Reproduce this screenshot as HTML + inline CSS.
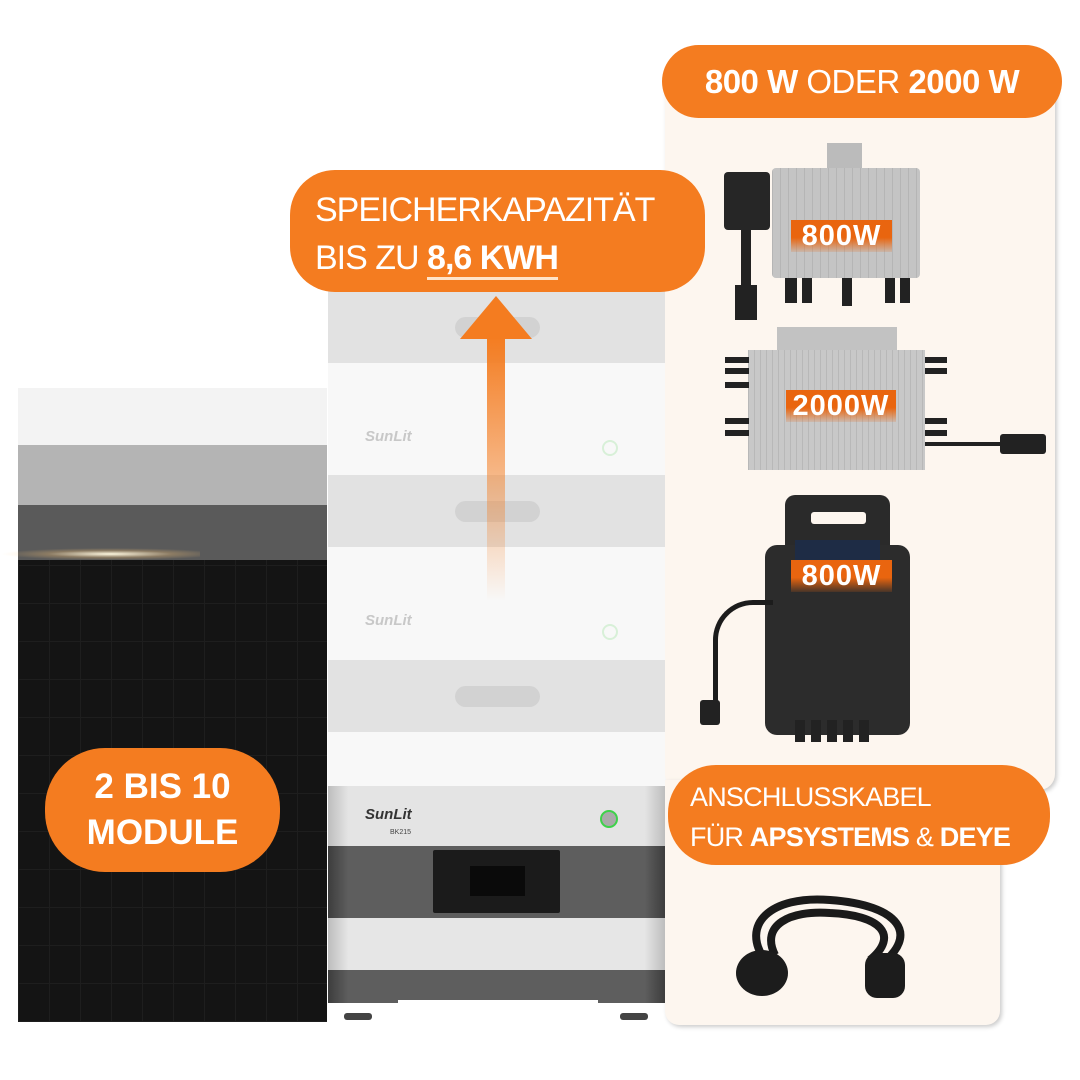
<!DOCTYPE html>
<html><head><meta charset="utf-8"><style>
*{margin:0;padding:0;box-sizing:border-box}
body{width:1080px;height:1080px;background:#fff;position:relative;overflow:hidden;font-family:"Liberation Sans",sans-serif}
.a{position:absolute}
.pill{position:absolute;background:#f47c20;color:#fff;border-radius:40px;white-space:nowrap}
.lbl{position:absolute;color:#fff;font-weight:bold;font-size:29px;text-align:center;line-height:32px;background:linear-gradient(#e9650f 55%,rgba(233,101,15,0.15));letter-spacing:1px}
</style></head><body>
<!-- right panel -->
<div class="a" style="left:665px;top:70px;width:390px;height:720px;background:#fdf6ef;border-radius:0 0 16px 16px;box-shadow:2px 2px 4px #ccc"></div>
<div class="a" style="left:665px;top:780px;width:335px;height:245px;background:#fdf6ef;border-radius:0 0 14px 14px;box-shadow:2px 2px 4px #ccc"></div>

<!-- solar panel -->
<div class="a" style="left:18px;top:388px;width:309px;height:57px;background:#f3f3f3"></div>
<div class="a" style="left:18px;top:445px;width:309px;height:60px;background:#b4b4b4"></div>
<div class="a" style="left:18px;top:505px;width:309px;height:55px;background:#5a5a5a"></div>
<div class="a" style="left:18px;top:560px;width:309px;height:462px;background:#141414;background-image:repeating-linear-gradient(90deg,#1e1e1e 0 1px,transparent 1px 31px),repeating-linear-gradient(0deg,#1e1e1e 0 1px,transparent 1px 38px)"></div>
<div class="a" style="left:0;top:548px;width:200px;height:12px;background:radial-gradient(ellipse at 55% 50%,#fff8e0,rgba(255,200,120,0.3) 40%,transparent 70%)"></div>

<!-- battery stack -->
<div class="a" style="left:328px;top:290px;width:337px;height:73px;background:#e2e2e2"></div>
<div class="a" style="left:328px;top:363px;width:337px;height:112px;background:#f8f8f8"></div>
<div class="a" style="left:328px;top:475px;width:337px;height:72px;background:#e2e2e2"></div>
<div class="a" style="left:328px;top:547px;width:337px;height:113px;background:#f8f8f8"></div>
<div class="a" style="left:328px;top:660px;width:337px;height:72px;background:#e2e2e2"></div>
<div class="a" style="left:328px;top:732px;width:337px;height:54px;background:#f8f8f8"></div>
<div class="a" style="left:455px;top:317px;width:85px;height:21px;border-radius:11px;background:#d2d2d2"></div>
<div class="a" style="left:455px;top:501px;width:85px;height:21px;border-radius:11px;background:#d2d2d2"></div>
<div class="a" style="left:455px;top:686px;width:85px;height:21px;border-radius:11px;background:#d2d2d2"></div>
<div class="a" style="left:365px;top:428px;color:#c8c8c8;font-style:italic;font-weight:bold;font-size:15px">SunLit</div>
<div class="a" style="left:365px;top:612px;color:#c8c8c8;font-style:italic;font-weight:bold;font-size:15px">SunLit</div>
<div class="a" style="left:602px;top:440px;width:16px;height:16px;border-radius:50%;border:2px solid #d8f0d8"></div>
<div class="a" style="left:602px;top:624px;width:16px;height:16px;border-radius:50%;border:2px solid #d8f0d8"></div>
<!-- bottom module -->
<div class="a" style="left:328px;top:786px;width:337px;height:60px;background:linear-gradient(90deg,#bdbdbd,#e4e4e4 6%,#e4e4e4 94%,#bdbdbd)"></div>
<div class="a" style="left:365px;top:806px;color:#333;font-style:italic;font-weight:bold;font-size:15px">SunLit</div>
<div class="a" style="left:390px;top:829px;color:#444;font-size:7px">BK215</div>
<div class="a" style="left:600px;top:810px;width:18px;height:18px;border-radius:50%;background:#aaa;border:2px solid #3ed24a"></div>
<div class="a" style="left:328px;top:846px;width:337px;height:72px;background:linear-gradient(90deg,#3d3d3d,#5e5e5e 6%,#5e5e5e 94%,#3d3d3d)"></div>
<div class="a" style="left:433px;top:850px;width:127px;height:63px;background:#1b1b1b;border-radius:2px"></div>
<div class="a" style="left:470px;top:866px;width:55px;height:30px;background:#0a0a0a"></div>
<div class="a" style="left:328px;top:918px;width:337px;height:52px;background:linear-gradient(90deg,#bdbdbd,#e6e6e6 6%,#e6e6e6 94%,#bdbdbd)"></div>
<div class="a" style="left:328px;top:970px;width:337px;height:33px;background:linear-gradient(90deg,#3d3d3d,#5e5e5e 6%,#5e5e5e 94%,#3d3d3d)"></div>
<div class="a" style="left:398px;top:1000px;width:200px;height:8px;background:#fff"></div>
<div class="a" style="left:344px;top:1013px;width:28px;height:7px;background:#444;border-radius:3px"></div>
<div class="a" style="left:620px;top:1013px;width:28px;height:7px;background:#444;border-radius:3px"></div>

<!-- arrow -->
<div class="a" style="left:487px;top:336px;width:18px;height:265px;background:linear-gradient(#f47c20,rgba(244,124,32,0.55) 50%,rgba(244,124,32,0))"></div>
<div class="a" style="left:460px;top:296px;width:0;height:0;border-left:36px solid transparent;border-right:36px solid transparent;border-bottom:43px solid #f47c20"></div>

<!-- pills -->
<div class="pill" style="left:662px;top:45px;width:400px;height:73px;border-radius:37px;font-size:33px;line-height:73px;text-align:center;letter-spacing:-0.5px"><b>800 W</b> ODER <b>2000 W</b></div>
<div class="pill" style="left:290px;top:170px;width:415px;height:122px;border-radius:45px;font-size:34px;line-height:48px;padding:16px 0 0 25px;letter-spacing:-1px">SPEICHERKAPAZITÄT<br>BIS ZU <b style="border-bottom:3px solid #ffe3c8">8,6 KWH</b></div>
<div class="pill" style="left:45px;top:748px;width:235px;height:124px;border-radius:60px;font-size:35px;line-height:46px;text-align:center;padding-top:16px;font-weight:bold">2 BIS 10<br>MODULE</div>
<div class="pill" style="left:668px;top:765px;width:382px;height:100px;border-radius:48px;font-size:27px;line-height:40px;padding:12px 0 0 22px;letter-spacing:-0.8px">ANSCHLUSSKABEL<br>FÜR <b>APSYSTEMS</b> &amp; <b>DEYE</b></div>

<!-- inverter 1 -->
<div class="a" style="left:827px;top:143px;width:35px;height:28px;background:#bbb"></div>
<div class="a" style="left:772px;top:168px;width:148px;height:110px;background:#c4c4c4;border-radius:4px;background-image:repeating-linear-gradient(90deg,#b5b5b5 0 1px,transparent 1px 8px)"></div>
<div class="a" style="left:724px;top:172px;width:46px;height:58px;background:#262626;border-radius:4px"></div>
<div class="a" style="left:741px;top:230px;width:10px;height:55px;background:#222"></div>
<div class="a" style="left:735px;top:285px;width:22px;height:35px;background:#222"></div>
<div class="a" style="left:785px;top:278px;width:12px;height:25px;background:#222"></div>
<div class="a" style="left:802px;top:278px;width:10px;height:25px;background:#222"></div>
<div class="a" style="left:842px;top:278px;width:10px;height:28px;background:#222"></div>
<div class="a" style="left:885px;top:278px;width:10px;height:25px;background:#222"></div>
<div class="a" style="left:900px;top:278px;width:10px;height:25px;background:#222"></div>
<div class="lbl" style="left:791px;top:220px;width:101px;height:32px">800W</div>
<!-- inverter 2 -->
<div class="a" style="left:777px;top:327px;width:120px;height:25px;background:#c2c2c2"></div>
<div class="a" style="left:748px;top:350px;width:177px;height:120px;background:#c8c8c8;background-image:repeating-linear-gradient(90deg,#b8b8b8 0 1px,transparent 1px 6px)"></div>
<div class="a" style="left:725px;top:357px;width:24px;height:6px;background:#222"></div>
<div class="a" style="left:725px;top:368px;width:24px;height:6px;background:#222"></div>
<div class="a" style="left:725px;top:382px;width:24px;height:6px;background:#222"></div>
<div class="a" style="left:725px;top:418px;width:24px;height:6px;background:#222"></div>
<div class="a" style="left:725px;top:430px;width:24px;height:6px;background:#222"></div>
<div class="a" style="left:925px;top:357px;width:22px;height:6px;background:#222"></div>
<div class="a" style="left:925px;top:368px;width:22px;height:6px;background:#222"></div>
<div class="a" style="left:925px;top:418px;width:22px;height:6px;background:#222"></div>
<div class="a" style="left:925px;top:430px;width:22px;height:6px;background:#222"></div>
<div class="a" style="left:925px;top:442px;width:80px;height:4px;background:#222"></div>
<div class="a" style="left:1000px;top:434px;width:46px;height:20px;background:#222;border-radius:3px"></div>
<div class="lbl" style="left:786px;top:390px;width:110px;height:32px">2000W</div>
<!-- inverter 3 -->
<div class="a" style="left:785px;top:495px;width:105px;height:60px;background:#2a2a2a;border-radius:10px 10px 0 0"></div>
<div class="a" style="left:765px;top:545px;width:145px;height:190px;background:#2c2c2c;border-radius:12px"></div>
<div class="a" style="left:811px;top:512px;width:55px;height:12px;background:#fdf6ef;border-radius:3px"></div>
<div class="a" style="left:795px;top:540px;width:85px;height:28px;background:#1e2c45"></div>
<div class="a" style="left:713px;top:600px;width:60px;height:110px;border:5px solid #1c1c1c;border-right:none;border-bottom:none;border-radius:40px 0 0 0"></div>
<div class="a" style="left:700px;top:700px;width:20px;height:25px;background:#222;border-radius:3px"></div>
<div class="a" style="left:795px;top:720px;width:80px;height:22px;background:repeating-linear-gradient(90deg,#222 0 10px,transparent 10px 16px)"></div>
<div class="lbl" style="left:791px;top:560px;width:101px;height:32px">800W</div>

<!-- cable -->
<svg class="a" style="left:730px;top:885px" width="200" height="120">
<path d="M35 75 C10 40 40 10 100 15 C170 20 190 50 150 80" stroke="#1a1a1a" stroke-width="8" fill="none"/>
<path d="M45 70 C30 40 60 25 100 28 C150 30 170 50 140 75" stroke="#1a1a1a" stroke-width="8" fill="none"/>
<ellipse cx="32" cy="88" rx="26" ry="23" fill="#1c1c1c"/>
<rect x="135" y="68" width="40" height="45" rx="12" fill="#1c1c1c"/>
</svg>
</body></html>
